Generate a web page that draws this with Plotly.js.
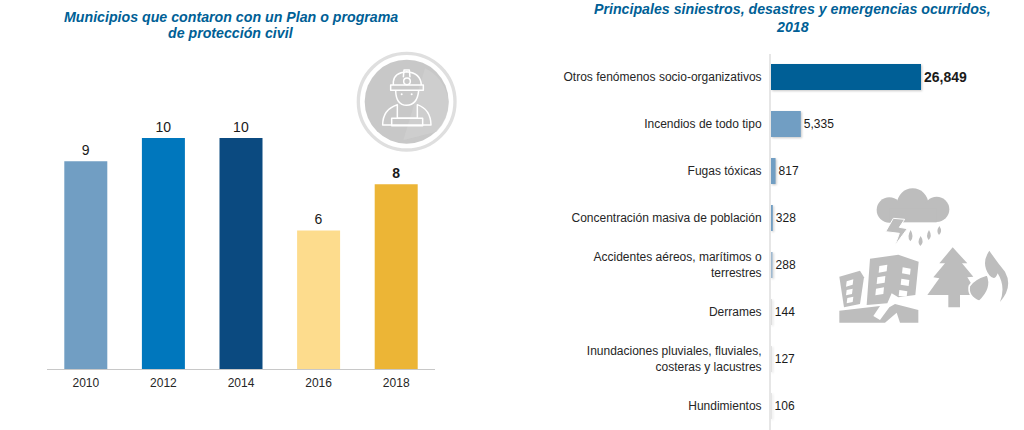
<!DOCTYPE html>
<html>
<head>
<meta charset="utf-8">
<script src="https://cdn.plot.ly/plotly-3.0.1.min.js"></script>
<style>html,body{margin:0;padding:0;background:#fff}#c{width:1024px;height:430px}
.x2y2 .bars path{filter:drop-shadow(1px 1px 1px rgba(0,0,0,.22))}</style>
</head>
<body>
<div id="c"></div>
<script>
var years = ['2010','2012','2014','2016','2018'];
var municipios = [9,10,10,6,8];
var yearLabels = ['9','10','10','6','<b>8</b>'];
var yearColors = ['#719ec3','#0077bd','#0b4a80','#fddc8d','#ecb536'];

var siniestros = ['Otros fenómenos socio-organizativos','Incendios de todo tipo','Fugas tóxicas','Concentración masiva de población','Accidentes aéreos, marítimos o<br>terrestres','Derrames','Inundaciones pluviales, fluviales,<br>costeras y lacustres','Hundimientos'];
var ocurridos = [26849,5335,817,328,288,144,127,106];
var ocurridosLabels = ['<b>26,849</b>','5,335','817','328','288','144','127','106'];
var ocurridosSizes = [14,12,12,12,12,12,12,12];
var ocurridosColors = ['#005f96','#719ec3','#719ec3','#719ec3','#9fb9d0','#d9d9d9','#d9d9d9','#d9d9d9'];

var W=1024,H=430,font='"Liberation Sans", Arial, sans-serif',titleColor='#005f96';

var workerSvg = '<svg xmlns="http://www.w3.org/2000/svg" viewBox="0 0 390 330" width="390" height="330">'+
 '<circle cx="200" cy="155" r="145" fill="none" stroke="#dfdfdf" stroke-width="10"/>'+
 '<circle cx="200" cy="155" r="126" fill="#c8c8c8"/>'+
 '<path d="M255 55 A126 126 0 0 1 326 155 A126 126 0 0 1 290 245 L190 270 Z" fill="#d2d2d2" opacity=".6"/>'+
 '<g fill="none" stroke="#fff" stroke-width="4.5" stroke-linejoin="round">'+
 '<path d="M160 105 V95 Q162 68 200 65 Q242 68 244 105"/>'+
 '<path d="M152 105 H250 V121 H152 Z"/>'+
 '<path d="M190 82 L192 60 H208 L210 82"/>'+
 '<circle cx="201" cy="94" r="10"/>'+
 '<path d="M167 122 Q168 165 200 166 Q232 165 236 122"/>'+
 '<path d="M128 225 Q128 178 172 164 V205 H232 V164 Q272 178 273 225 Z"/>'+
 '<path d="M155 205 H248 V227 H155 Z"/>'+
 '</g><circle cx="185" cy="133" r="3" fill="#fff"/><circle cx="215" cy="133" r="3" fill="#fff"/></svg>';

var g='#bdbdbd';
var hazardSvg = '<svg xmlns="http://www.w3.org/2000/svg" viewBox="0 0 570 450" width="570" height="450">'+
 '<g fill="'+g+'">'+
 '<circle cx="248" cy="72" r="47"/><circle cx="178" cy="90" r="38"/><circle cx="320" cy="88" r="38"/><rect x="178" y="85" width="142" height="42"/>'+
 '<path d="M190 115 L224 118 L208 142 L232 146 L195 196 L208 160 L167 155 Z" stroke="#fff" stroke-width="3"/>'+
 '<path d="M242 150 Q229 172 241 184 Q254 172 242 150Z M272 168 Q260 186 271 198 Q284 186 272 168Z M297 150 Q286 168 296 180 Q308 168 297 150Z M328 138 Q317 154 327 165 Q339 154 328 138Z"/>'+
 '<path d="M120 236 L205 224 L266 245 L256 345 L205 352 L185 340 L172 370 L110 375 Z"/>'+
 '<path d="M28 290 L90 272 L102 292 L90 372 L42 382 Z"/>'+
 '<path d="M28 392 L150 378 L130 408 L150 420 L178 382 L195 372 L265 390 V428 H210 L200 398 L165 428 H28 Z"/>'+
 '<path d="M368 202 L412 250 L396 250 L430 290 L412 292 L445 345 H390 V382 H355 V345 H292 L328 295 L310 292 L345 250 L328 250 Z"/>'+
 '<path d="M478 212 Q500 245 525 275 Q550 320 510 366 Q528 320 503 280 Q495 305 478 286 Q452 250 478 212 Z"/>'+
 '<path d="M472 284 Q490 325 448 364 Q412 350 418 318 Q432 296 472 284 Z" stroke="#fff" stroke-width="5"/>'+
 '</g>'+
 '<g fill="#fff"><path d="M148 258 L172 254 L170 274 L146 278Z M218 262 L242 266 L240 284 L216 280Z M142 292 L166 288 L164 308 L140 312Z M214 296 L238 300 L236 318 L212 314Z M138 326 L162 322 L160 342 L136 346Z M208 330 L232 334 L230 350 L206 348Z M50 304 L70 298 L68 314 L48 320Z M50 330 L68 326 L66 342 L48 346Z M52 354 L70 350 L68 366 L50 370Z"/></g></svg>';

function uri(s){return 'data:image/svg+xml;charset=utf-8,'+encodeURIComponent(s);}
function px(x){return x/W;}
function py(y){return 1-y/H;}

var traces=[
 {type:'bar',x:years,y:municipios,text:yearLabels,textposition:'outside',cliponaxis:false,constraintext:'none',
  textfont:{family:font,size:14,color:'#1a1a1a'},marker:{color:yearColors,line:{width:0}},hoverinfo:'x+y',xaxis:'x',yaxis:'y'},
 {type:'bar',orientation:'h',y:siniestros,x:ocurridos,text:ocurridosLabels,textposition:'outside',cliponaxis:false,constraintext:'none',
  textfont:{family:font,size:ocurridosSizes,color:'#1a1a1a'},marker:{color:ocurridosColors,line:{width:0}},hoverinfo:'x+y',xaxis:'x2',yaxis:'y2'}
];
function titleLine(text,x,y){
 return {xref:'paper',yref:'paper',x:px(x),y:py(y),xanchor:'center',yanchor:'middle',align:'center',showarrow:false,
   text:'<b><i>'+text+'</i></b>',font:{family:font,size:14.2,color:titleColor}};
}
var layout={
 width:W,height:H,margin:{l:0,r:0,t:0,b:0},paper_bgcolor:'#fff',plot_bgcolor:'rgba(0,0,0,0)',showlegend:false,bargap:0.446,
 font:{family:font,size:12,color:'#262626'},
 xaxis:{domain:[px(47),px(435)],type:'category',categoryorder:'array',categoryarray:years,range:[-0.5,4.5],anchor:'y',
  showgrid:false,zeroline:false,showline:true,linecolor:'#c8c8c8',linewidth:1,ticks:'',ticklabelstandoff:3,tickfont:{family:font,size:12,color:'#262626'}},
 yaxis:{domain:[py(369),py(115)],range:[0,11],anchor:'x',visible:false},
 xaxis2:{domain:[px(771),1],range:[0,45285],anchor:'y2',visible:false},
 yaxis2:{domain:[py(429.5),py(53.5)],type:'category',categoryorder:'array',categoryarray:siniestros,autorange:false,range:[7.5,-0.5],anchor:'x2',
  showgrid:false,zeroline:false,showline:true,linecolor:'#e6e6e6',linewidth:2,ticks:'',ticklabelstandoff:5,tickfont:{family:font,size:12,color:'#262626'}},
 annotations:[
  titleLine('Municipios que contaron con un Plan o programa',231,17),
  titleLine('de protección civil',231,33),
  titleLine('Principales siniestros, desastres y emergencias ocurridos,',792,9),
  titleLine('2018',792,27)
 ],
 images:[
  {source:uri(workerSvg),xref:'paper',yref:'paper',x:px(340),y:py(50),sizex:130/W,sizey:110/H,sizing:'stretch',xanchor:'left',yanchor:'top',layer:'below'},
  {source:uri(hazardSvg),xref:'paper',yref:'paper',x:px(830),y:py(180),sizex:190/W,sizey:150/H,sizing:'stretch',xanchor:'left',yanchor:'top',layer:'below'}
 ]
};
Plotly.newPlot('c',traces,layout,{displayModeBar:false,staticPlot:true});
</script>
</body>
</html>
